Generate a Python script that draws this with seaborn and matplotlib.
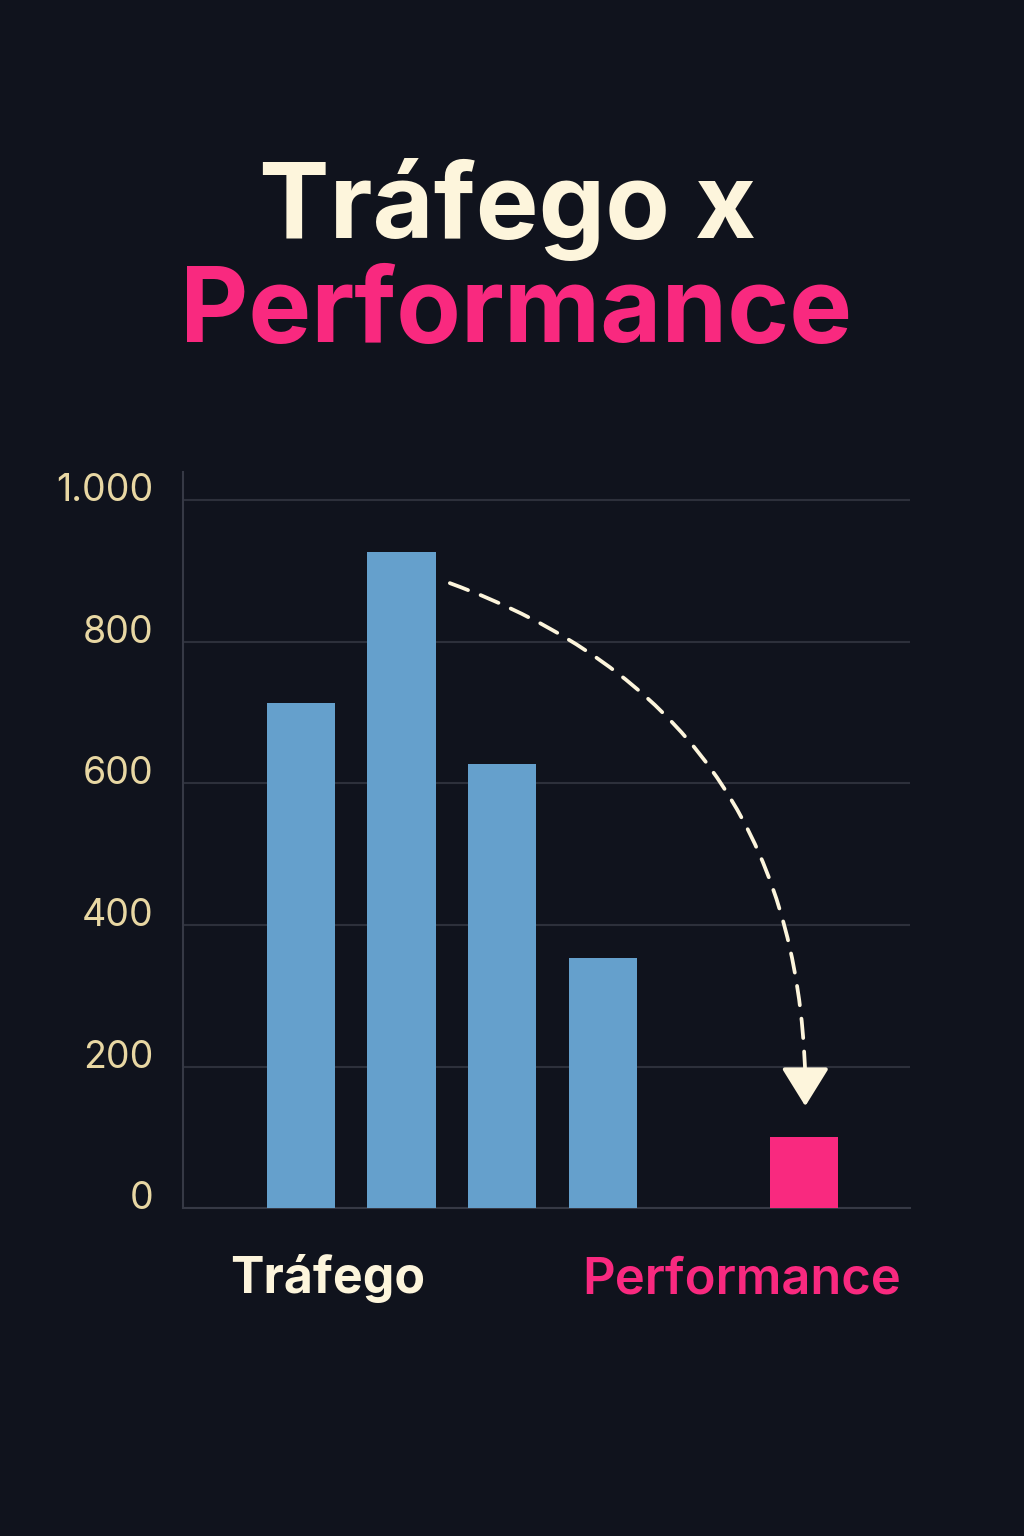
import matplotlib
matplotlib.use("Agg")
import matplotlib.pyplot as plt
import matplotlib.transforms as mtransforms
from matplotlib.ticker import FuncFormatter
import seaborn as sns

# data
slots = [0, 1, 2, 3, 5]
values = [713, 927, 627, 353, 100]
groups = ["Tráfego", "Tráfego", "Tráfego", "Tráfego", "Performance"]
yticks = [0, 200, 400, 600, 800, 1000]

BG = "#10131d"
CREAM = "#fdf5dc"
PINK = "#f9297f"
BLUE = "#65a0cc"
GRID = "#2d303b"
TICK = "#e8d7a3"

sns.set_theme(style="dark")
plt.rcParams['font.family'] = ['Inter', 'DejaVu Sans']

fig = plt.figure(figsize=(10.24, 15.36), dpi=100, facecolor=BG)
ax = fig.add_axes([0.1787, 0.2135, 0.71, 0.4792])
ax.set_facecolor(BG)

sns.barplot(x=slots, y=values, hue=groups, native_scale=True, width=0.676,
            palette={"Tráfego": BLUE, "Performance": PINK}, legend=False,
            saturation=1, ax=ax, zorder=3, linewidth=0)

ax.set_xlim(-1.17, 6.05)
ax.set_ylim(0, 1040)
ax.set_yticks(yticks)
ax.yaxis.set_major_formatter(FuncFormatter(lambda v, p: f"{v:,.0f}".replace(",", ".")))
ax.set_xticks([])
ax.set_xlabel("")
ax.set_ylabel("")
ax.grid(axis="y", color=GRID, linewidth=1.5, zorder=0)
ax.grid(axis="x", visible=False)
for side in ["top", "right"]:
    ax.spines[side].set_visible(False)
for side in ["left", "bottom"]:
    ax.spines[side].set_visible(True)
    ax.spines[side].set_color("#363945")
    ax.spines[side].set_linewidth(1.5)
ax.tick_params(axis="y", length=0, pad=21, labelsize=27, labelcolor=TICK)
for lab in ax.get_yticklabels():
    lab.set_fontweight("normal")
    lab.set_transform(lab.get_transform() +
                      mtransforms.ScaledTranslation(0, 0.13, fig.dpi_scale_trans))

# dashed curved arrow from tallest bar to the performance bar
ax.annotate("", xy=(5.01, 185), xytext=(1.48, 883),
            arrowprops=dict(arrowstyle="-", color=CREAM, lw=2.7,
                            linestyle=(0, (5.2, 3.6)),
                            connectionstyle="arc3,rad=-0.34",
                            shrinkA=0, shrinkB=0), zorder=5)
ax.annotate("", xy=(5.01, 144), xytext=(5.01, 195),
            arrowprops=dict(arrowstyle="-|>,head_length=1.0,head_width=0.62",
                            color=CREAM, lw=2.7, mutation_scale=24,
                            shrinkA=0, shrinkB=0), zorder=5)

# title
fig.text(0.496, 1 - 238 / 1536, "Tráfego x", ha="center", va="baseline",
         fontsize=76, fontweight="bold", color=CREAM)
fig.text(0.504, 1 - 342 / 1536, "Performance", ha="center", va="baseline",
         fontsize=76, fontweight="bold", color=PINK)

# group labels under the axis
fig.text(328 / 1024, 1 - 1293 / 1536, "Tráfego", ha="center", va="baseline",
         fontsize=36, fontweight="bold", color=CREAM)
fig.text(742 / 1024, 1 - 1293 / 1536, "Performance", ha="center", va="baseline",
         fontsize=36.5, fontweight="semibold", color=PINK)

fig.savefig("out.png", dpi=100, facecolor=BG)
